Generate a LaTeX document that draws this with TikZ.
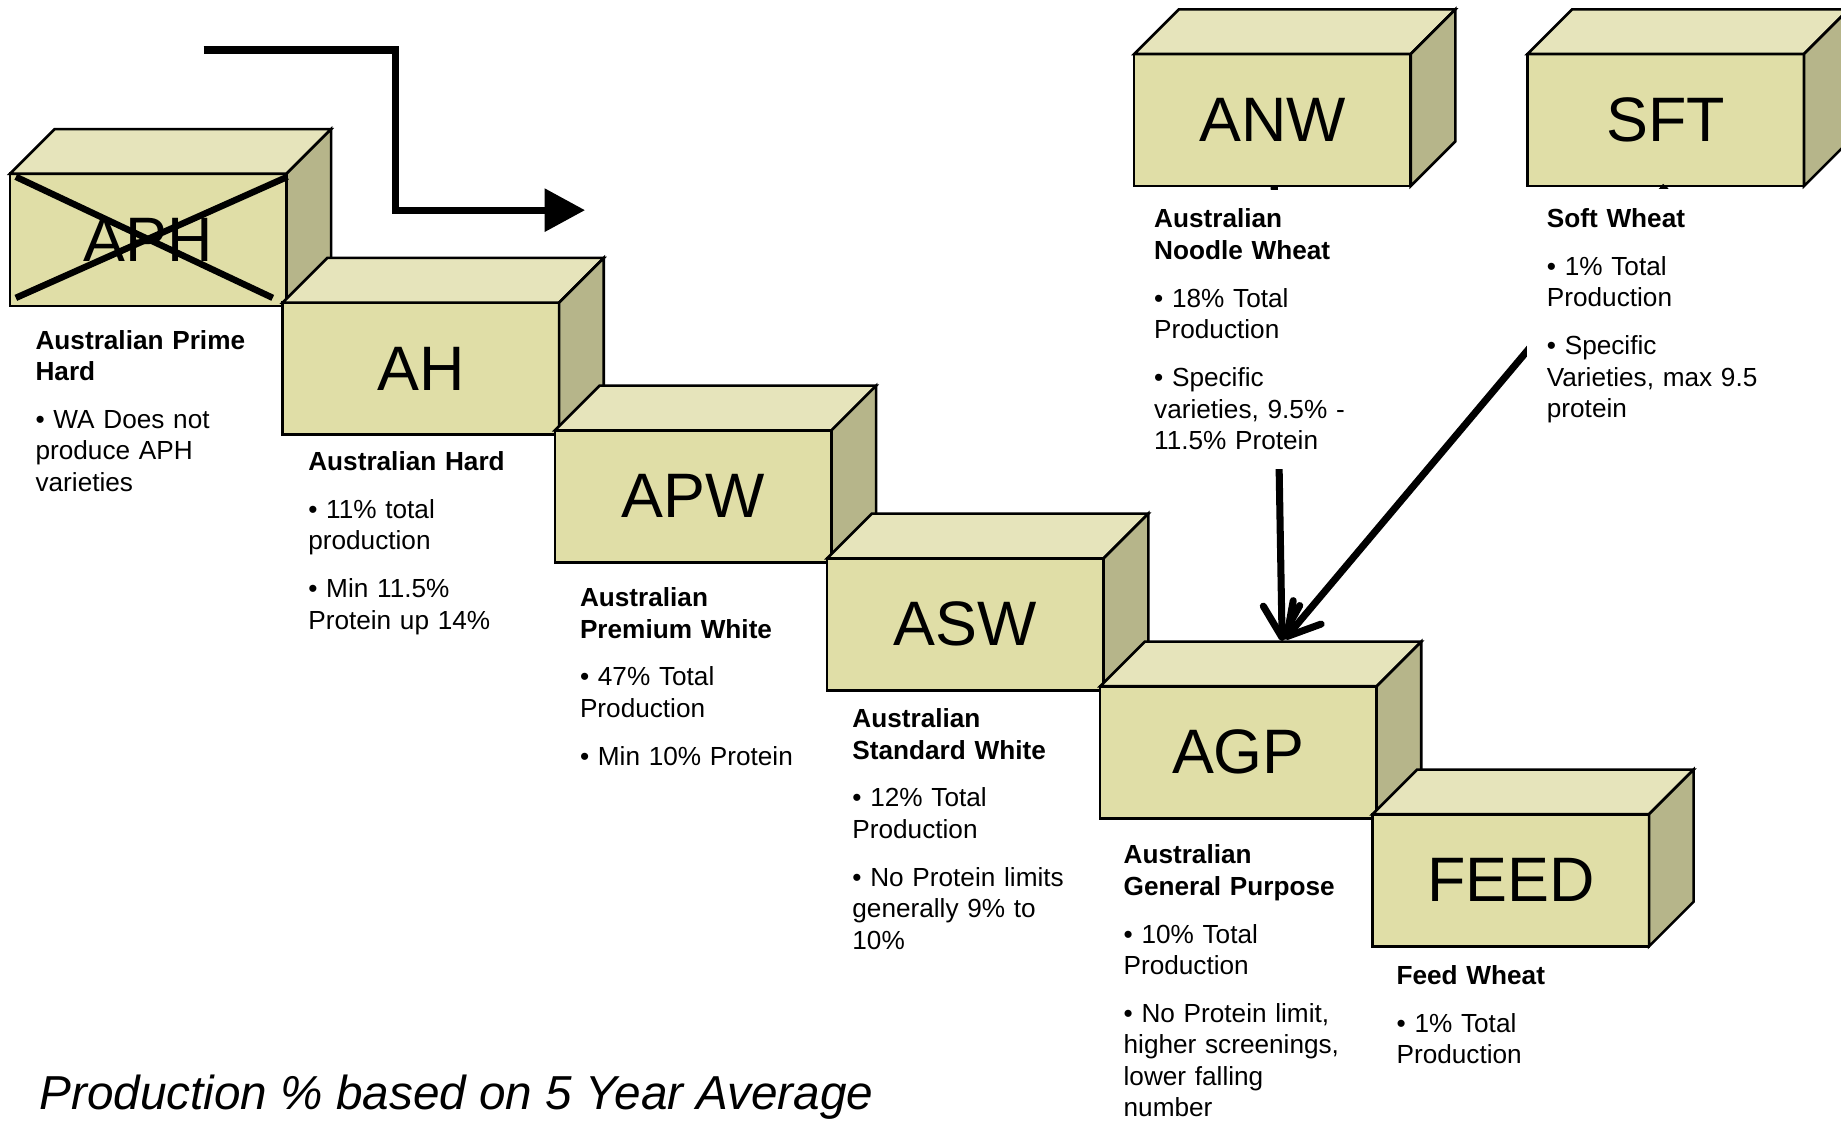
\documentclass[tikz,border=0pt]{standalone}
\usepackage{fontspec}
\setmainfont{Liberation Sans}
\usetikzlibrary{arrows.meta}
\definecolor{boxfront}{RGB}{224,222,167}
\definecolor{boxtop}{RGB}{230,228,187}
\definecolor{boxside}{RGB}{182,181,138}
\tikzset{
  face/.style={draw=black, line width=2.2pt, line join=miter},
  frontface/.style={face, fill=boxfront, minimum width=235.5pt, minimum height=112.5pt,
    anchor=north west, inner sep=0pt, outer sep=0pt, font=\fontsize{53.5}{60}\selectfont},
  desc/.style={anchor=north west, inner sep=0pt, outer sep=0pt, align=left, text width=225pt,
    font=\fontsize{22.3}{26.8}\selectfont},
  maskdesc/.style={desc, fill=white, inner xsep=17pt, inner ysep=16.5pt, text width=200pt},
  thickline/.style={line width=6pt},
  feeder/.style={thickline, line cap=butt, -{Straight Barb[length=27pt,width=31pt,round]}},
  flowarrow/.style={thickline, -{Triangle[length=34.5pt,width=35.6pt]}},
  crossline/.style={line width=5.5pt}
}
\newcommand\wheatbox[3]{%
  \node[frontface] (#1) at (#2) {#3};
  \draw[face, fill=boxtop] (#1.north west) -- ++(38,-38) -- ++(235.5,0) -- (#1.north east) -- cycle;
  \draw[face, fill=boxside] (#1.north east) -- ++(38,-38) -- ++(0,112.5) -- (#1.south east) -- cycle;
}
\newcommand\bul{\textbullet\ }
\newcommand\pgap{\\[14pt]}
\begin{document}
\begin{tikzpicture}[x=1pt, y=-1pt]
\fill[white] (0,0) rectangle (1568,954.8);
\useasboundingbox (0,0) rectangle (1568,954.8);

% upper boxes
\wheatbox{anw}{966,46}{ANW}
\wheatbox{sft}{1301,46}{SFT}

% staircase
\wheatbox{aph}{8.5,148}{APH}
\wheatbox{ah}{240.7,257.7}{AH}
\wheatbox{apw}{472.7,366.5}{APW}
\wheatbox{asw}{704.5,475.5}{ASW}
\wheatbox{agp}{937,584.5}{AGP}
\wheatbox{feed}{1169,693.5}{FEED}

% cross over APH
\coordinate (c1a) at (13.5,150.6);
\coordinate (c1b) at (232.3,253.7);
\coordinate (c2a) at (13.5,253.7);
\coordinate (c2b) at (244.8,150.6);
\draw[crossline] (c1a) -- (c1b);
\draw[crossline] (c2a) -- (c2b);

% feeder arrows into AGP
\draw[feeder] ([xshift=1.5pt]anw.south) -- ([shift={(155,-38.5)}]agp.north west);
\draw[feeder] (sft.south) -- ([shift={(157,-40)}]agp.north west);

% descriptions
\node[desc] (aphtxt) at (30.3,281.2) {\textbf{Australian Prime}\\\textbf{Hard}\pgap\bul WA Does not\\produce APH\\varieties};
\node[desc] (ahtxt) at (262.6,384.5) {\textbf{Australian Hard}\pgap\bul 11\% total\\production\pgap\bul Min 11.5\%\\Protein up 14\%};
\node[desc] (apwtxt) at (494,500.5) {\textbf{Australian}\\\textbf{Premium White}\pgap\bul 47\% Total\\Production\pgap\bul Min 10\% Protein};
\node[desc] (aswtxt) at (726,603.5) {\textbf{Australian}\\\textbf{Standard White}\pgap\bul 12\% Total\\Production\pgap\bul No Protein limits\\generally 9\% to\\10\%};
\node[desc] (agptxt) at (957,719.5) {\textbf{Australian}\\\textbf{General Purpose}\pgap\bul 10\% Total\\Production\pgap\bul No Protein limit,\\higher screenings,\\lower falling\\number};
\node[desc] (feedtxt) at (1189.5,822) {\textbf{Feed Wheat}\pgap\bul 1\% Total\\Production};
\node[maskdesc] (anwtxt) at (966,161.5) {\textbf{Australian}\\\textbf{Noodle Wheat}\pgap\bul 18\% Total\\Production\pgap\bul Specific\\varieties, 9.5\% -\\11.5\% Protein};
\node[maskdesc] (sfttxt) at (1300.5,161) {\textbf{Soft Wheat}\pgap\bul 1\% Total\\Production\pgap\bul Specific\\Varieties, max 9.5\\protein};

% flow arrow
\coordinate (fa0) at (173.4,42.6);
\coordinate (fa1) at (336.5,42.6);
\coordinate (fa2) at (336.5,179);
\coordinate (fa3) at (498.3,179);
\draw[flowarrow] (fa0) -- (fa1) -- (fa2) -- (fa3);

% caption
\node[anchor=base west, inner sep=0pt, font=\fontsize{40.6}{48}\selectfont\itshape] (caption) at (33.5,945) {Production \% based on 5 Year Average};
\end{tikzpicture}
\end{document}
